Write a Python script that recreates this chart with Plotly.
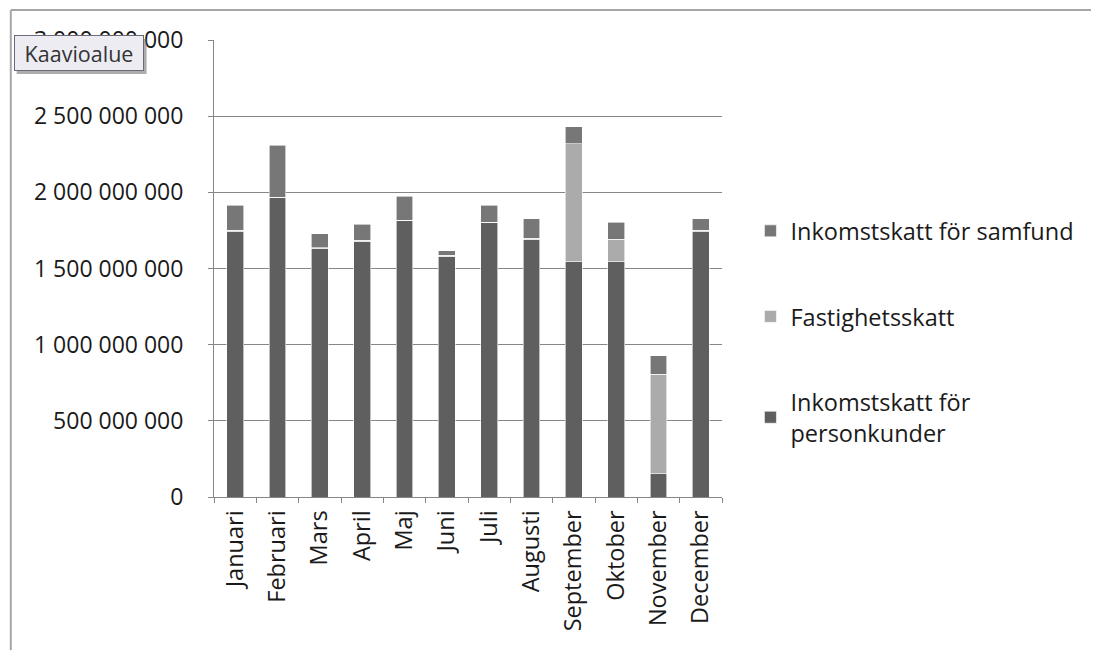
import plotly.graph_objects as go

months = ["Januari", "Februari", "Mars", "April", "Maj", "Juni", "Juli",
          "Augusti", "September", "Oktober", "November", "December"]
personkunder = [1741, 1966, 1632, 1678, 1816, 1580, 1803, 1691, 1543, 1543, 153, 1741]
fastighet = [10, 2, 3, 8, 2, 8, 2, 8, 776, 148, 653, 10]
samfund = [163, 340, 93, 103, 155, 29, 109, 128, 113, 112, 120, 76]
M = 1_000_000
tick_vals = [0, 500, 1000, 1500, 2000, 2500, 3000]
tick_text = ["0", "500 000 000", "1 000 000 000", "1 500 000 000",
             "2 000 000 000", "2 500 000 000", "3 000 000 000"]

names = ["Inkomstskatt för<br>personkunder", "Fastighetsskatt", "Inkomstskatt för samfund"]
colors = ["#5f5f5f", "#ababab", "#777777"]
ranks = [3, 2, 1]
series = [personkunder, fastighet, samfund]

fig = go.Figure()
for i, (nm, col, vals) in enumerate(zip(names, colors, series)):
    fig.add_trace(go.Bar(
        x=months, y=[v * M for v in vals], name=nm, legendgroup=f"g{i}",
        legendrank=ranks[i],
        marker=dict(color=col, line=dict(color="white", width=0.6)),
    ))

font = "'Open Sans', sans-serif"
fig.update_layout(
    barmode="stack", bargap=0.6,
    width=1091, height=642,
    margin=dict(l=205.5, r=377, t=32, b=153),
    paper_bgcolor="white", plot_bgcolor="white",
    font=dict(family=font, size=22, color="#1a1a1a"),
    showlegend=True,
    legend=dict(x=1.056, y=0.63, xanchor="left", yanchor="top",
                traceorder="grouped", tracegroupgap=52,
                font=dict(size=23.5, color="#1a1a1a"), itemwidth=30),
    xaxis=dict(showline=True, linecolor="#868686", linewidth=1,
               ticks="outside", tickson="boundaries", ticklen=5, tickcolor="#868686",
               tickangle=-90, showgrid=False, tickfont=dict(size=23.5),
               ticklabelstandoff=3),
    yaxis=dict(range=[0, 3000 * M], tickvals=[v * M for v in tick_vals], ticktext=tick_text,
               showline=True, linecolor="#868686", linewidth=1,
               ticks="outside", ticklen=5, tickcolor="#868686",
               gridcolor="#868686", gridwidth=1, zeroline=False, tickfont=dict(size=23),
               ticklabelstandoff=20),
    shapes=[
        dict(type="line", xref="paper", yref="paper", x0=-0.4, x1=1.75, y0=1.0656, y1=1.0656,
             line=dict(color="#a6a6a6", width=2)),
        dict(type="line", xref="paper", yref="paper", x0=-0.4, x1=-0.4, y0=1.0656, y1=-0.34,
             line=dict(color="#a6a6a6", width=2)),
        dict(type="rect", xref="paper", yref="paper", layer="above",
             x0=-0.3884, x1=-0.1327, y0=1.0 - 34 / 457, y1=1.0 + 1 / 457,
             fillcolor="#6a6a6a", line=dict(width=0), opacity=0.55),
    ],
    annotations=[
        dict(text="Kaavioalue", xref="paper", yref="paper", x=-0.3944, y=1.011,
             xanchor="left", yanchor="top", showarrow=False, align="center",
             width=120, height=26,
             font=dict(family=font, size=21.5, color="#333333"),
             bgcolor="#edecf3", bordercolor="#6a6a78", borderwidth=1, borderpad=4),
    ],
)

fig.write_html("out.html")
